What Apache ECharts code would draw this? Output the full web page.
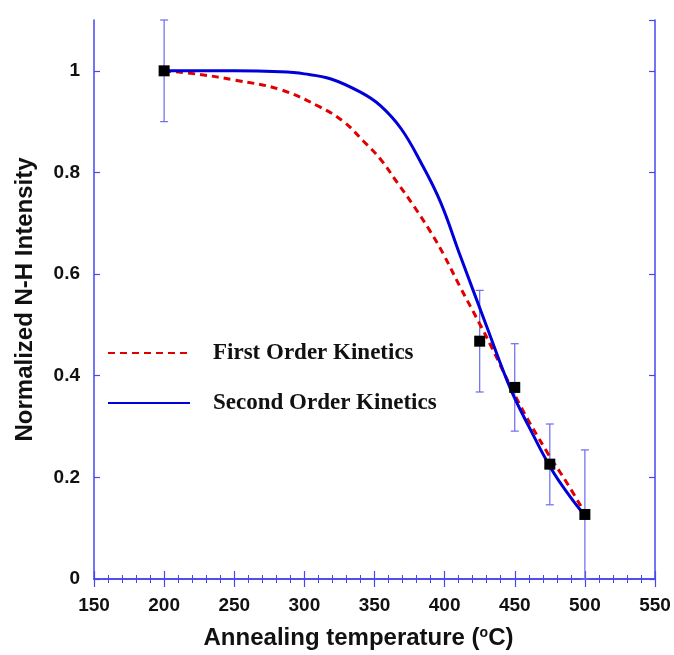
<!DOCTYPE html>
<html>
<head>
<meta charset="utf-8">
<script src="https://cdn.jsdelivr.net/npm/echarts@6/dist/echarts.min.js"></script>
<style>html,body{margin:0;padding:0;background:#fff}#c{width:674px;height:655px}</style>
</head>
<body>
<div id="c"></div>
<script>
// Measured data points
const pointTemps = [200, 425, 450, 475, 500];
const pointValues = [1.0, 0.468, 0.377, 0.226, 0.127];
const errLow = [0.9, 0.368, 0.291, 0.146, 0.0];
const errHigh = [1.1, 0.568, 0.463, 0.305, 0.254];

// First order kinetics fit (red dashed)
const firstTemps = [200, 225, 250, 283, 311, 328, 342, 354, 366, 378, 390, 399, 411, 426, 433, 454, 473, 487, 500];
const firstValues = [1.0, 0.993, 0.982, 0.963, 0.929, 0.90, 0.862, 0.827, 0.781, 0.734, 0.683, 0.64, 0.575, 0.497, 0.459, 0.341, 0.25, 0.19, 0.13];

// Second order kinetics fit (blue solid)
const secondTemps = [200, 250, 283, 300, 319, 340, 354, 369, 383, 397, 411, 430, 447, 461, 476, 490, 500];
const secondValues = [1.0, 1.0, 0.998, 0.994, 0.984, 0.958, 0.932, 0.886, 0.82, 0.742, 0.637, 0.497, 0.374, 0.295, 0.217, 0.16, 0.125];

const seriesNames = ['First Order Kinetics', 'Second Order Kinetics'];

const zip = (a, b) => a.map((v, i) => [v, b[i]]);
const axisBlue = '#4646f2';

const chart = echarts.init(document.getElementById('c'));
const commonX = {
  type: 'value', min: 150, max: 550, interval: 50,
  axisLine: { show: true, lineStyle: { color: axisBlue, width: 1.5 } },
  axisTick: { show: true, inside: true, length: 8, lineStyle: { color: axisBlue, width: 1.2 } },
  minorTick: { show: true, splitNumber: 5, length: 4, lineStyle: { color: axisBlue, width: 1 } },
  splitLine: { show: false }, minorSplitLine: { show: false }
};
const commonY = {
  type: 'value', min: 0, max: 1.1, interval: 0.2,
  axisLine: { show: true, lineStyle: { color: axisBlue, width: 1.5 } },
  axisTick: { show: true, inside: true, length: 6, lineStyle: { color: axisBlue, width: 1.2 } },
  splitLine: { show: false }
};

chart.setOption({
  animation: false,
  grid: { left: 94, right: 19, top: 20, bottom: 75 },
  legend: {
    data: seriesNames,
    orient: 'vertical',
    left: 102, top: 335,
    itemWidth: 82, itemHeight: 14, itemGap: 24,
    itemStyle: { opacity: 0 },
    textStyle: { fontFamily: 'Liberation Serif', fontWeight: 'bold', fontSize: 23, lineHeight: 26, color: '#111', padding: [0, 0, 0, 18] }
  },
  xAxis: [
    Object.assign({}, commonX, {
      position: 'bottom',
      axisLabel: { show: true, color: '#111', fontFamily: 'Liberation Sans', fontWeight: 'bold', fontSize: 19, margin: 17 },
      name: 'Annealing temperature ({sup|o}C)',
      nameLocation: 'middle', nameGap: 47,
      nameTextStyle: {
        color: '#111', fontFamily: 'Liberation Sans', fontWeight: 'bold', fontSize: 24,
        padding: [0, 32, 0, 0],
        rich: { sup: { fontFamily: 'Liberation Sans', fontWeight: 'bold', fontSize: 14, color: '#111', verticalAlign: 'top', padding: [0, 0, 10, 0] } }
      }
    }),
    Object.assign({}, commonX, { position: 'top', axisLabel: { show: false } })
  ],
  yAxis: [
    Object.assign({}, commonY, {
      position: 'left',
      axisLabel: { show: true, showMaxLabel: false, color: '#111', fontFamily: 'Liberation Sans', fontWeight: 'bold', fontSize: 19, margin: 14 },
      name: 'Normalized N-H Intensity',
      nameLocation: 'middle', nameGap: 57,
      nameTextStyle: { color: '#111', fontFamily: 'Liberation Sans', fontWeight: 'bold', fontSize: 24 }
    }),
    Object.assign({}, commonY, { position: 'right', axisLabel: { show: false } })
  ],
  series: [
    {
      name: 'errorbars', type: 'custom', xAxisIndex: 0, yAxisIndex: 0, z: 2,
      data: pointTemps.map((t, i) => [t, errLow[i], errHigh[i]]),
      renderItem: function (params, api) {
        const lo = api.coord([api.value(0), api.value(1)]);
        const hi = api.coord([api.value(0), api.value(2)]);
        const w = 4;
        const st = { stroke: '#6a6af0', lineWidth: 1.2 };
        return {
          type: 'group',
          children: [
            { type: 'line', shape: { x1: lo[0], y1: lo[1], x2: hi[0], y2: hi[1] }, style: st },
            { type: 'line', shape: { x1: hi[0] - w, y1: hi[1], x2: hi[0] + w, y2: hi[1] }, style: st },
            { type: 'line', shape: { x1: lo[0] - w, y1: lo[1], x2: lo[0] + w, y2: lo[1] }, style: st }
          ]
        };
      }
    },
    {
      name: seriesNames[0], type: 'line', smooth: 0.4, symbol: 'none', z: 3,
      data: zip(firstTemps, firstValues),
      lineStyle: { color: '#e00000', width: 3, type: [7, 5] },
      itemStyle: { color: '#e00000' }
    },
    {
      name: seriesNames[1], type: 'line', smooth: 0.4, symbol: 'none', z: 4,
      data: zip(secondTemps, secondValues),
      lineStyle: { color: '#0000d8', width: 3 },
      itemStyle: { color: '#0000d8' }
    },
    {
      name: 'data', type: 'scatter', symbol: 'rect', symbolSize: 11, z: 5,
      data: zip(pointTemps, pointValues),
      itemStyle: { color: '#000', opacity: 1 }
    }
  ]
});
</script>
</body>
</html>
